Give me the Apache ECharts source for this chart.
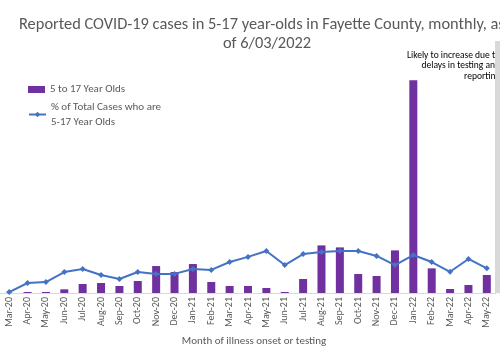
<!DOCTYPE html>
<html>
<head>
<meta charset="utf-8">
<script src="https://cdn.jsdelivr.net/npm/echarts@6/dist/echarts.min.js"></script>
<style>
html,body{margin:0;padding:0;background:#fff;}
#chart{width:500px;height:346px;}
</style>
</head>
<body>
<div id="chart"></div>
<script>
const months = ['Mar-20','Apr-20','May-20','Jun-20','Jul-20','Aug-20','Sep-20','Oct-20','Nov-20','Dec-20',
  'Jan-21','Feb-21','Mar-21','Apr-21','May-21','Jun-21','Jul-21','Aug-21','Sep-21','Oct-21','Nov-21','Dec-21',
  'Jan-22','Feb-22','Mar-22','Apr-22','May-22'];
const cases5to17 = [5,30,30,110,270,300,210,360,810,630,
  870,330,210,210,150,30,420,1430,1370,570,510,1280,
  6390,740,120,240,540];
const pctOfTotal = [0.4,4.3,4.7,9.0,10.3,7.7,6.0,9.0,8.2,8.2,
  10.3,9.9,13.3,15.5,18.0,12.0,16.7,17.6,18.0,18.0,15.9,12.0,
  16.3,13.3,9.1,14.6,10.6];
const barName = '5 to 17 Year Olds';
const lineName = '% of Total Cases who are 5-17 Year Olds';

const FONT = 'Carlito, "Liberation Sans Narrow", "Noto Sans", sans-serif';
const grey = '#595959';

const chart = echarts.init(document.getElementById('chart'), null, {renderer:'canvas'});
chart.setOption({
  animation: false,
  textStyle: {fontFamily: FONT},
  title: [
    {text: 'Reported COVID-19 cases in 5-17 year-olds in Fayette County, monthly, as', left: 14, top: 12,
     textStyle:{fontFamily: FONT, fontSize: 16.4, fontWeight: 'normal', color: grey}},
    {text: 'of 6/03/2022', left: 262, textAlign: 'center', top: 31,
     textStyle:{fontFamily: FONT, fontSize: 16.4, fontWeight: 'normal', color: grey}}
  ],
  legend: [
    {data: [{name: barName, icon: 'rect'}], orient: 'vertical', left: 28, top: 84, padding: 0,
     itemWidth: 17, itemHeight: 7, itemGap: 0,
     textStyle: {fontFamily: FONT, fontSize: 11, color: grey}},
    {data: [{name: lineName}], orient: 'vertical', left: 28, top: 92, padding: 0,
     itemWidth: 17, itemHeight: 7,
     formatter: function(){ return '% of Total Cases who are\n5-17 Year Olds'; },
     textStyle: {fontFamily: FONT, fontSize: 11, color: grey, lineHeight: 15, padding: [15,0,0,0]}}
  ],
  grid: {left: 0, right: 4, top: 60, bottom: 53, containLabel: false, outerBoundsMode: 'none'},
  xAxis: {
    type: 'category', data: months,
    name: 'Month of illness onset or testing', nameLocation: 'middle', nameGap: 42,
    nameTextStyle: {fontFamily: FONT, fontSize: 11, color: grey, padding: [0,0,0,12]},
    axisLine: {lineStyle: {color: '#d9d9d9'}},
    axisTick: {show: false},
    axisLabel: {rotate: 90, fontFamily: FONT, fontSize: 10, color: grey, margin: 4, interval: 0}
  },
  yAxis: [
    {type: 'value', min: 0, max: 7000, show: false, splitLine: {show: false}},
    {type: 'value', min: 0, max: 100, show: false, splitLine: {show: false}}
  ],
  series: [
    {name: barName, type: 'bar', data: cases5to17, barWidth: 8, itemStyle: {color: '#7030A0'}, yAxisIndex: 0},
    {name: lineName, type: 'line', data: pctOfTotal, yAxisIndex: 1, symbol: 'diamond', symbolSize: 6,
     lineStyle: {color: '#4472C4', width: 2}, itemStyle: {color: '#4472C4'}}
  ],
  graphic: [
    {type: 'text', x: 500, y: 50, z: 10,
     style: {text: 'Likely to increase due to\ndelays in testing and\nreporting', align: 'right',
             fontFamily: FONT, fontSize: 9.5, lineHeight: 10.5, fill: '#000'}},
    {type: 'rect', x: 495, y: 41, z: 20, shape: {width: 5, height: 252}, style: {fill: '#d9d9d9'}}
  ]
});
</script>
</body>
</html>
